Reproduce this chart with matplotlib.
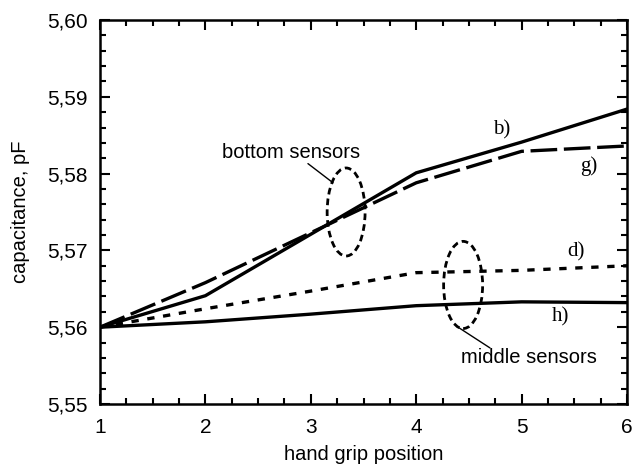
import matplotlib.pyplot as plt
from matplotlib.patches import Ellipse
from matplotlib.ticker import MultipleLocator, FuncFormatter

# hand grip positions and capacitance curves (pF)
positions = [1, 2, 3, 4, 5, 6]
cap_b = [5.5600, 5.5641, 5.5721, 5.5801, 5.5841, 5.5884]
cap_g = [5.5600, 5.5658, 5.5723, 5.5788, 5.5829, 5.5836]
cap_d = [5.5600, 5.5624, 5.5647, 5.5671, 5.5674, 5.5680]
cap_h = [5.5600, 5.5607, 5.5617, 5.5628, 5.5633, 5.5632]

plt.rcParams['font.family'] = ['Liberation Sans', 'DejaVu Sans']

fig = plt.figure(figsize=(6.34, 4.65), dpi=100)
ax = fig.add_axes([0.1577, 0.1312, 0.8313, 0.8258])

ax.plot(positions, cap_b, color='k', linewidth=2.4, solid_joinstyle='miter')
ax.plot(positions, cap_g, color='k', linewidth=2.4, dashes=(8, 2))
ax.plot(positions, cap_d, color='k', linewidth=2.4, dashes=(2.2, 2.6))
ax.plot(positions, cap_h, color='k', linewidth=2.4)

# grouping ellipses
ax.add_patch(Ellipse((3.335, 5.5750), 0.36, 0.01146, fill=False,
                     edgecolor='k', linewidth=2, linestyle=(0, (2.4, 1.5))))
ax.add_patch(Ellipse((4.445, 5.5655), 0.37, 0.01135, fill=False,
                     edgecolor='k', linewidth=2, linestyle=(0, (2.4, 1.5))))

# annotations with leader lines
ax.text(2.817, 5.5828, 'bottom sensors', fontsize=14.5, ha='center', va='center')
ax.annotate('', xy=(3.211, 5.5788), xytext=(2.973, 5.5813),
            arrowprops=dict(arrowstyle='-', color='k', linewidth=1,
                            shrinkA=0, shrinkB=0))
ax.text(5.066, 5.5560, 'middle sensors', fontsize=14.5, ha='center', va='center')
ax.annotate('', xy=(4.397, 5.5600), xytext=(4.700, 5.5573),
            arrowprops=dict(arrowstyle='-', color='k', linewidth=1,
                            shrinkA=0, shrinkB=0))

for lbl, x, y in [('b)', 4.814, 5.5857), ('g)', 5.639, 5.5810),
                  ('d)', 5.516, 5.5698), ('h)', 5.364, 5.5613)]:
    ax.text(x, y, lbl, family='Liberation Serif', fontsize=15,
            ha='center', va='center')

ax.set_xlim(1, 6)
ax.set_ylim(5.55, 5.60)
ax.xaxis.set_major_locator(MultipleLocator(1))
ax.xaxis.set_minor_locator(MultipleLocator(0.25))
ax.yaxis.set_major_locator(MultipleLocator(0.01))
ax.yaxis.set_minor_locator(MultipleLocator(0.002))
ax.yaxis.set_major_formatter(FuncFormatter(lambda v, p: f'{v:.2f}'.replace('.', ',')))
ax.tick_params(which='both', direction='in', top=True, right=True, width=1.5,
               labelsize=15)
ax.tick_params(which='major', length=7)
ax.tick_params(axis='x', which='major', pad=10)
ax.tick_params(axis='y', which='major', pad=9)
ax.tick_params(which='minor', length=4)
for s in ax.spines.values():
    s.set_linewidth(1.8)

ax.set_xlabel('hand grip position', fontsize=14.5, labelpad=6)
ax.set_ylabel('capacitance, pF', fontsize=14.5, labelpad=12)

fig.savefig('out.png', dpi=100)
